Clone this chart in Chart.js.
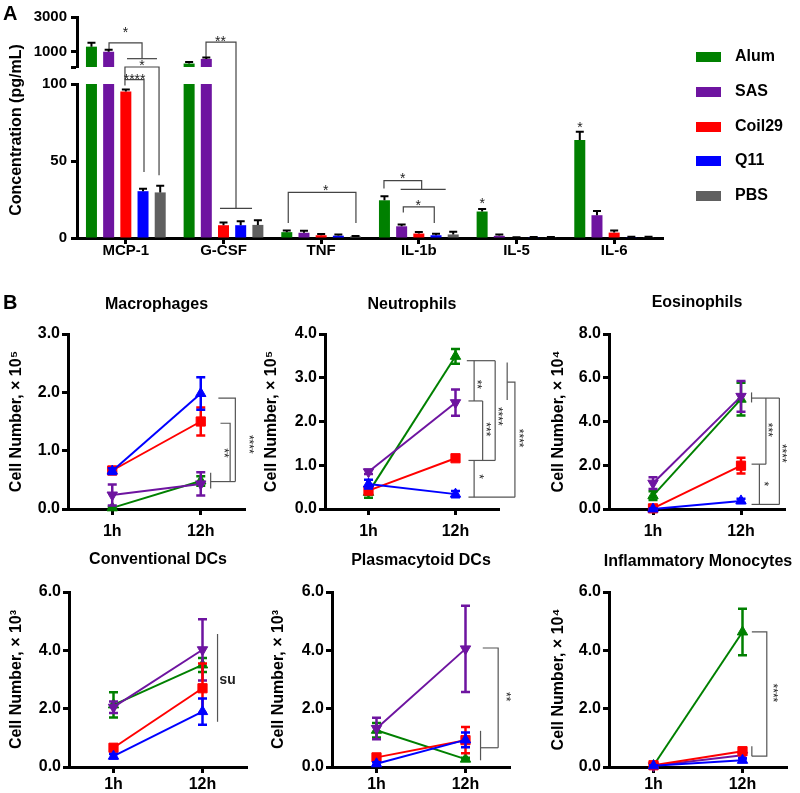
<!DOCTYPE html>
<html><head><meta charset="utf-8">
<script src="https://cdn.jsdelivr.net/npm/chart.js@4/dist/chart.umd.min.js"></script>
<style>
body{margin:0;background:#fff;}
#wrap{position:relative;width:800px;height:793px;overflow:hidden;background:#fff;font-family:"Liberation Sans",Arial,sans-serif;}
canvas{position:absolute;}
.lbl{position:absolute;font-weight:bold;color:#000;line-height:1;white-space:nowrap;}
.sw{position:absolute;width:25px;height:10px;}
</style></head><body>
<div id="wrap">
<canvas id="aBot" width="680" height="265" style="left:0;top:0"></canvas>
<canvas id="aTop" width="680" height="80" style="left:0;top:0"></canvas>
<canvas id="bMac" width="262" height="260" style="left:0;top:286px"></canvas>
<canvas id="bNeu" width="264" height="260" style="left:262px;top:286px"></canvas>
<canvas id="bEos" width="274" height="260" style="left:526px;top:286px"></canvas>
<canvas id="bCdc" width="262" height="247" style="left:0;top:546px"></canvas>
<canvas id="bPdc" width="264" height="247" style="left:262px;top:546px"></canvas>
<canvas id="bIm" width="274" height="247" style="left:526px;top:546px"></canvas>
<div class="lbl" style="left:3px;top:3px;font-size:20px">A</div>
<div class="lbl" style="left:3px;top:292px;font-size:20px">B</div>
<div class="lbl" id="aYTitle" style="left:16px;top:130px;font-size:16px;transform:translate(-50%,-50%) rotate(-90deg)">Concentration (pg/mL)</div>
<div id="legend"></div>
</div>
<script>
// ---------------- data ----------------
const cytokines = ['MCP-1','G-CSF','TNF','IL-1b','IL-5','IL-6'];
const groups = ['Alum','SAS','Coil29','Q11','PBS'];
const groupColors = ['#008000','#6E14A0','#FF0000','#0000FF','#606060'];

// Panel A: cytokine concentration (pg/mL), mean and SEM
const alumConc   = [1280, 300, 3.8, 24.5, 17.2, 63.7];
const sasConc    = [985, 570, 3.4, 7.6, 1.4, 14.8];
const coil29Conc = [95.2, 8.3, 1.8, 2.9, 0.3, 3.5];
const q11Conc    = [30.4, 8.3, 1.5, 1.8, 0.5, 0.5];
const pbsConc    = [29.6, 8.5, 1.0, 2.3, 0.5, 0.5];
const alumConcErr   = [230, 90, 1.0, 2.6, 1.7, 5.3];
const sasConcErr    = [110, 75, 1.3, 1.2, 0.9, 2.8];
const coil29ConcErr = [1.3, 1.7, 0.8, 1.0, 0.2, 1.3];
const q11ConcErr    = [1.5, 2.5, 0.8, 1.0, 0.2, 0.3];
const pbsConcErr    = [4.3, 3.0, 0.3, 1.7, 0.2, 0.3];
const lowAxisTicks  = [0, 50, 100];
const highAxisTicks = [1000, 3000];

// Panel B: cell numbers at 1h and 12h (Alum, SAS, Coil29, Q11)
const timepoints = ['1h','12h'];
const macAlum=[0.02,0.48], macSAS=[0.24,0.43], macCoil29=[0.66,1.50], macQ11=[0.65,1.98];
const macAlumErr=[0.02,0.08], macSASErr=[0.18,0.20], macCoil29Err=[0.06,0.24], macQ11Err=[0.05,0.28];
const neuAlum=[0.38,3.49], neuSAS=[0.85,2.43], neuCoil29=[0.42,1.16], neuQ11=[0.57,0.34];
const neuAlumErr=[0.12,0.17], neuSASErr=[0.05,0.30], neuCoil29Err=[0.06,0.05], neuQ11Err=[0.10,0.07];
const eosAlum=[0.61,5.02], eosSAS=[1.18,5.15], eosCoil29=[0.03,1.98], eosQ11=[0.0,0.37];
const eosAlumErr=[0.20,0.75], eosSASErr=[0.27,0.70], eosCoil29Err=[0.05,0.36], eosQ11Err=[0.02,0.10];
const cdcAlum=[2.13,3.50], cdcSAS=[2.05,4.02], cdcCoil29=[0.66,2.70], cdcQ11=[0.37,1.90];
const cdcAlumErr=[0.43,0.24], cdcSASErr=[0.20,1.05], cdcCoil29Err=[0.10,0.85], cdcQ11Err=[0.08,0.45];
const pdcAlum=[1.26,0.27], pdcSAS=[1.32,4.05], pdcCoil29=[0.33,0.92], pdcQ11=[0.11,0.93];
const pdcAlumErr=[0.25,0.05], pdcSASErr=[0.37,1.48], pdcCoil29Err=[0.08,0.45], pdcQ11Err=[0.05,0.25];
const imAlum=[0.05,4.63], imSAS=[0.04,0.40], imCoil29=[0.06,0.54], imQ11=[0.04,0.23];
const imAlumErr=[0.02,0.80], imSASErr=[0.02,0.10], imCoil29Err=[0.02,0.12], imQ11Err=[0.02,0.06];

// ---------------- annotations (significance brackets) ----------------
const NOTES = {
  aBot: {lineColor:'#444', lineWidth:1.2, fontSize:14, paths:[
    [[-0.172,1118,'T'],[-0.172,1504,'T'],[0.166,1504,'T'],[0.166,583,'T']],
    [[0.012,583,'T'],[0.319,583,'T']],
    [[-0.009,102.8],[-0.009,100,'T'],[0.34,100,'T'],[0.34,40.8]],
    [[-0.009,99],[-0.009,102.8],[0.186,102.8],[0.186,42.8]],
    [[0.821,641,'T'],[0.821,1538,'T'],[1.128,1538,'T'],[1.128,19.2]],
    [[0.964,19.2],[1.292,19.2]],
    [[1.663,9.8],[1.663,29.6],[2.356,29.6],[2.356,9.8]],
    [[2.643,32.2],[2.643,37.2],[3.029,37.2],[3.029,31.6]],
    [[2.814,31.6],[3.275,31.6]],
    [[2.841,16.6],[2.841,20.2],[3.158,20.2],[3.158,9.8]]
  ], labels:[
    ['*',-0.003,2309,0,'T'], ['*',0.166,353,0,'T'], ['****',0.09,105.4,0],
    ['**',0.97,1792,0,'T'], ['*',2.046,33.2,0], ['*',2.835,40.9,0], ['*',2.995,23.3,0],
    ['*',3.65,24.6,0], ['*',4.65,74.1,0]
  ]},
  bMac: {lineColor:'#555', lineWidth:1.2, fontSize:12, paths:[
    [[1.112,0.62],[1.112,0.35]], [[1.112,0.47],[1.391,0.47]],
    [[1.223,1.47],[1.332,1.47],[1.332,0.47]], [[1.199,1.90],[1.391,1.90],[1.391,0.47]]
  ], labels:[['**',1.29,0.96,90], ['****',1.574,1.11,90]]},
  bNeu: {lineColor:'#555', lineWidth:1.2, fontSize:12, paths:[
    [[1.130,3.39],[1.456,3.39]], [[1.214,3.39],[1.214,2.47]], [[1.149,2.47],[1.312,2.47]],
    [[1.312,2.47],[1.312,1.11]], [[1.149,1.11],[1.456,1.11]], [[1.214,1.11],[1.214,0.27]],
    [[1.149,0.27],[1.683,0.27]], [[1.456,3.39],[1.456,1.11]], [[1.594,3.35],[1.594,2.49]],
    [[1.594,2.90],[1.683,2.90],[1.683,0.27]]
  ], labels:[['**',1.283,2.85,90], ['***',1.386,1.82,90], ['****',1.520,2.12,90], ['*',1.302,0.74,90], ['****',1.762,1.62,90]]},
  bEos: {lineColor:'#555', lineWidth:1.2, fontSize:12, paths:[
    [[1.120,5.33],[1.120,4.87]], [[1.120,5.07],[1.436,5.07]], [[1.283,5.07],[1.283,2.05]],
    [[1.120,2.05],[1.283,2.05]], [[1.209,2.05],[1.209,0.21]], [[1.120,0.21],[1.436,0.21]],
    [[1.436,5.07],[1.436,0.21]]
  ], labels:[['***',1.337,3.62,90], ['****',1.500,2.55,90], ['*',1.293,1.15,90]]},
  bCdc: {lineColor:'#555', lineWidth:1.2, fontSize:14, bold:true, paths:[
    [[1.169,4.56],[1.169,1.55]]
  ], labels:[['ns',1.283,2.99,180]]},
  bPdc: {lineColor:'#555', lineWidth:1.2, fontSize:12, paths:[
    [[1.169,1.24],[1.169,0.23]], [[1.169,0.66],[1.367,0.66]], [[1.194,4.08],[1.367,4.08],[1.367,0.66]]
  ], labels:[['**',1.480,2.41,90]]},
  bIm: {lineColor:'#555', lineWidth:1.2, fontSize:12, paths:[
    [[1.105,4.63],[1.273,4.63],[1.273,0.37],[1.105,0.37]], [[1.105,0.71],[1.105,0.37]]
  ], labels:[['****',1.376,2.54,90]],
  // panel heading placed above the plot area (wider than the plot area)
  heading:{text:'Inflammatory Monocytes', x:0.5, y:7.04, size:16}}
};

// ---------------- plugins ----------------
const FONT = '"Liberation Sans", Arial, Helvetica, sans-serif';
Chart.defaults.font.family = FONT;
Chart.defaults.color = '#000';
Chart.defaults.animation = false;

const ERR = {};
const TOP = {};
const errorBars = {
  id: 'errorBars',
  afterDatasetDraw(chart, args) {
    const spec = ERR[chart.canvas.id]; if (!spec) return;
    const errs = spec.sets[args.index]; if (!errs) return;
    const ds = chart.data.datasets[args.index];
    const ys = chart.scales.y, ctx = chart.ctx;
    ctx.save();
    ctx.strokeStyle = spec.color || ds.borderColor;
    ctx.lineWidth = spec.lw;
    args.meta.data.forEach((el, j) => {
      const v = ds.data[j];
      if (v < ys.min || v > ys.max) return;
      const x = el.x;
      const yTop = ys.getPixelForValue(v + errs[j]);
      const yBot = ys.getPixelForValue(spec.both ? Math.max(0, v - errs[j]) : v);
      ctx.beginPath();
      ctx.moveTo(x, yBot); ctx.lineTo(x, yTop);
      ctx.moveTo(x - spec.cap, yTop); ctx.lineTo(x + spec.cap, yTop);
      if (spec.both) { ctx.moveTo(x - spec.cap, yBot); ctx.lineTo(x + spec.cap, yBot); }
      ctx.stroke();
    });
    ctx.restore();
  }
};
const notes = {
  id: 'notes',
  afterDraw(chart) {
    const spec = NOTES[chart.canvas.id]; if (!spec) return;
    const xs = chart.scales.x, ctx = chart.ctx;
    const yScale = seg => (seg === 'T' ? TOP.chart.scales.y : chart.scales.y);
    ctx.save();
    ctx.strokeStyle = spec.lineColor; ctx.lineWidth = spec.lineWidth;
    spec.paths.forEach(p => {
      ctx.beginPath();
      p.forEach((pt, k) => {
        const X = xs.getPixelForValue(pt[0]);
        const Y = yScale(pt[2]).getPixelForValue(pt[1]);
        if (k) ctx.lineTo(X, Y); else ctx.moveTo(X, Y);
      });
      ctx.stroke();
    });
    spec.labels.forEach(l => {
      const [t, xv, yv, rot, seg] = l;
      const X = xs.getPixelForValue(xv), Y = yScale(seg).getPixelForValue(yv);
      const fs = spec.fontSize;
      ctx.save();
      ctx.translate(X, Y); ctx.rotate(rot * Math.PI / 180);
      ctx.font = (spec.bold ? 'bold ' : '') + fs + 'px ' + FONT;
      ctx.fillStyle = '#222'; ctx.textAlign = 'center'; ctx.textBaseline = 'alphabetic';
      ctx.fillText(t, 0, (t.indexOf('*') >= 0 ? 0.56 : 0.27) * fs);
      ctx.restore();
    });
    if (spec.heading) {
      const h = spec.heading;
      ctx.font = 'bold ' + h.size + 'px ' + FONT;
      ctx.fillStyle = '#000'; ctx.textAlign = 'center'; ctx.textBaseline = 'middle';
      ctx.fillText(h.text, xs.getPixelForValue(h.x), chart.scales.y.getPixelForValue(h.y));
    }
    ctx.restore();
  }
};
Chart.register(errorBars, notes);

const axisGrid = (len) => ({display:true, drawOnChartArea:false, offset:false, tickLength:len, tickWidth:3, tickColor:'#000'});
const axisBorder = {display:true, color:'#000', width:3};

// ---------------- Panel A ----------------
const concSets = [alumConc, sasConc, coil29Conc, q11Conc, pbsConc];
const concErrSets = [alumConcErr, sasConcErr, coil29ConcErr, q11ConcErr, pbsConcErr];
function barDatasets() {
  return groups.map((g, i) => ({
    label: g, data: concSets[i], backgroundColor: groupColors[i], borderWidth: 0,
    categoryPercentage: 0.88, barPercentage: 0.64, clip: 0
  }));
}
ERR.aTop = {sets: concErrSets, color:'#000', lw:2, cap:4, both:false};
ERR.aBot = {sets: concErrSets, color:'#000', lw:2, cap:4, both:false};

TOP.chart = new Chart(document.getElementById('aTop'), {
  type:'bar',
  data:{labels: cytokines, datasets: barDatasets()},
  options:{
    responsive:false, animation:false,
    layout:{padding:{top:17, right:17, bottom:12, left:0}},
    plugins:{legend:{display:false}, tooltip:{enabled:false}, title:{display:false}},
    scales:{
      x:{display:false},
      y:{min:100, max:3000,
         afterBuildTicks: s => { s.ticks = [100].concat(highAxisTicks).map(v => ({value:v})); },
         ticks:{callback: v => highAxisTicks.includes(v) ? String(v) : '', font:{size:15, weight:'bold'}, padding:4, color:'#000'},
         grid: axisGrid(6), border: axisBorder,
         afterFit: s => { s.width = 77; }}
    }
  }
});

new Chart(document.getElementById('aBot'), {
  type:'bar',
  data:{labels: cytokines, datasets: barDatasets()},
  options:{
    responsive:false, animation:false,
    layout:{padding:{top:84, right:17, bottom:0, left:0}},
    plugins:{legend:{display:false}, tooltip:{enabled:false}},
    scales:{
      x:{grid: axisGrid(6), border: axisBorder,
         ticks:{font:{size:15, weight:'bold'}, padding:-2, color:'#000', maxRotation:0, autoSkip:false},
         afterFit: s => { s.height = 27; }},
      y:{min:0, max:100,
         afterBuildTicks: s => { s.ticks = lowAxisTicks.map(v => ({value:v})); },
         ticks:{font:{size:15, weight:'bold'}, padding:4, color:'#000'},
         grid: axisGrid(6), border: axisBorder,
         afterFit: s => { s.width = 77; }}
    }
  }
});

// legend
(function(){
  const lg = document.getElementById('legend');
  const rowY = [57, 92, 127, 161, 196];
  groups.forEach((g, i) => {
    const sw = document.createElement('div');
    sw.className = 'sw'; sw.style.left = '696px'; sw.style.top = (rowY[i] - 5) + 'px';
    sw.style.background = groupColors[i];
    lg.appendChild(sw);
    const t = document.createElement('div');
    t.className = 'lbl'; t.style.left = '735px'; t.style.top = (rowY[i] - 9) + 'px'; t.style.fontSize = '16px';
    t.textContent = g;
    lg.appendChild(t);
  });
})();

// ---------------- Panel B ----------------
const markerStyles = ['triangle','triangle','rect','triangle'];
const markerRot = [0, 180, 0, 0];
const markerSize = [6, 6, 6.5, 6];
const LAY = {
  bMac:{pr:17, yw:68, xh:37, tp:9.4, tb:19.4, ytp:7.4, xpad:7},
  bNeu:{pr:27, yw:63, xh:37, tp:9.4, tb:19.4, ytp:0,   xpad:7},
  bEos:{pr:15, yw:83, xh:37, tp:6.7, tb:22.1, ytp:23.4, xpad:7},
  bCdc:{pr:15, yw:69, xh:26, tp:3.7, tb:23.1, ytp:7.4, xpad:2},
  bPdc:{pr:16, yw:70, xh:26, tp:5.1, tb:21.7, ytp:7.4, xpad:2},
  bIm: {pr:13, yw:83, xh:26, pt:46, ytp:23.4, xpad:2}
};
function cellChart(id, title, yTitle, yMax, yStep, vals, errs) {
  const L = LAY[id];
  ERR[id] = {sets: errs, color:null, lw:2.5, cap:4.5, both:true};
  return new Chart(document.getElementById(id), {
    type:'line',
    data:{labels: timepoints, datasets: vals.map((v, i) => ({
      label: groups[i], data: v, borderColor: groupColors[i], backgroundColor: groupColors[i],
      borderWidth: 2, pointStyle: markerStyles[i], pointRotation: markerRot[i], pointRadius: markerSize[i],
      pointBorderWidth: 1, pointBorderColor: groupColors[i], pointBackgroundColor: groupColors[i],
      order: 10 - i, clip: false, tension: 0
    }))},
    options:{
      responsive:false, animation:false,
      layout:{padding:{top:L.pt || 0, right:L.pr, bottom:0, left:0}},
      plugins:{legend:{display:false}, tooltip:{enabled:false},
        title:{display: !!title, text:title || '', fullSize:false, color:'#000',
               font:{size:16, weight:'bold'}, padding:{top:L.tp || 0, bottom:L.tb || 0}}},
      scales:{
        x:{type:'category', offset:true, grid: axisGrid(6), border: axisBorder,
           ticks:{font:{size:16, weight:'bold'}, padding:L.xpad, color:'#000'},
           afterFit: s => { s.height = L.xh; }},
        y:{min:0, max:yMax,
           ticks:{stepSize:yStep, callback: v => Number(v).toFixed(1), font:{size:16, weight:'bold'}, padding:2, color:'#000'},
           grid: axisGrid(6), border: axisBorder,
           title:{display:true, text:yTitle, color:'#000', font:{size:16, weight:'bold'}, padding:{top:L.ytp, bottom:0}},
           afterFit: s => { s.width = L.yw; }}
      }
    }
  });
}
cellChart('bMac', 'Macrophages', 'Cell Number, × 10⁵', 3, 1,
  [macAlum, macSAS, macCoil29, macQ11], [macAlumErr, macSASErr, macCoil29Err, macQ11Err]);
cellChart('bNeu', 'Neutrophils', 'Cell Number, × 10⁵', 4, 1,
  [neuAlum, neuSAS, neuCoil29, neuQ11], [neuAlumErr, neuSASErr, neuCoil29Err, neuQ11Err]);
cellChart('bEos', 'Eosinophils', 'Cell Number, × 10⁴', 8, 2,
  [eosAlum, eosSAS, eosCoil29, eosQ11], [eosAlumErr, eosSASErr, eosCoil29Err, eosQ11Err]);
cellChart('bCdc', 'Conventional DCs', 'Cell Number, × 10³', 6, 2,
  [cdcAlum, cdcSAS, cdcCoil29, cdcQ11], [cdcAlumErr, cdcSASErr, cdcCoil29Err, cdcQ11Err]);
cellChart('bPdc', 'Plasmacytoid DCs', 'Cell Number, × 10³', 6, 2,
  [pdcAlum, pdcSAS, pdcCoil29, pdcQ11], [pdcAlumErr, pdcSASErr, pdcCoil29Err, pdcQ11Err]);
cellChart('bIm', null, 'Cell Number, × 10⁴', 6, 2,
  [imAlum, imSAS, imCoil29, imQ11], [imAlumErr, imSASErr, imCoil29Err, imQ11Err]);
</script>
</body></html>
